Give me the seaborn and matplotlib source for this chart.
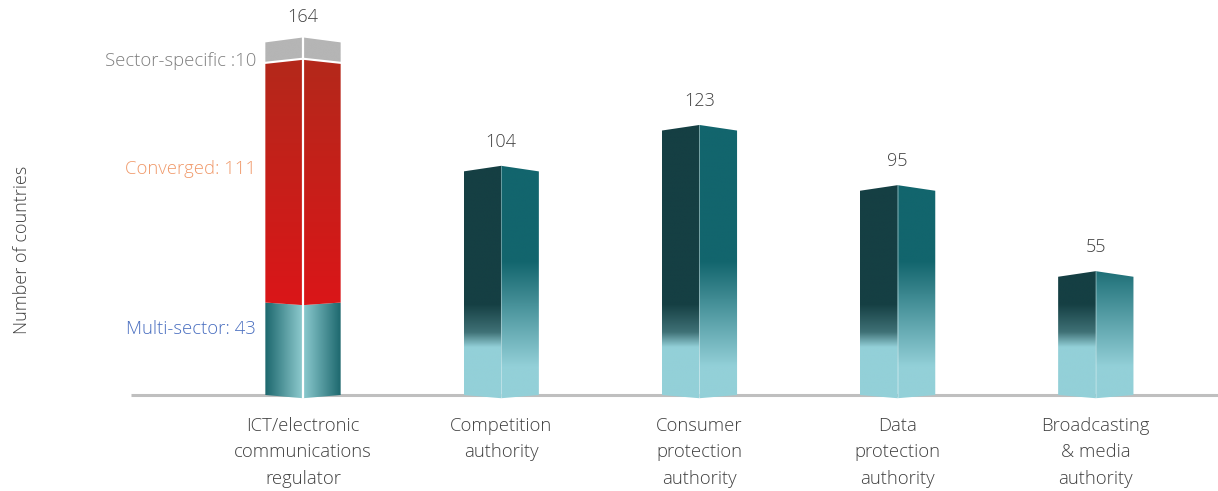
import numpy as np
import matplotlib
matplotlib.use("Agg")
import matplotlib.pyplot as plt
from matplotlib.patches import Polygon
from matplotlib.colors import to_rgb
import seaborn as sns

# ---- data ----
categories = ["ICT/electronic\ncommunications\nregulator",
              "Competition\nauthority",
              "Consumer\nprotection\nauthority",
              "Data\nprotection\nauthority",
              "Broadcasting\n& media\nauthority"]
totals = [164, 104, 123, 95, 55]
ict_segments = ["Multi-sector", "Converged", "Sector-specific"]
ict_values = [43, 111, 10]
ict_labels = ["Multi-sector: 43", "Converged: 111", "Sector-specific :10"]

sns.set_theme(style="white")
plt.rcParams["font.family"] = ["Open Sans", "DejaVu Sans"]
plt.rcParams["font.weight"] = "light"

W, H, DPI = 1218, 491, 100
PPU = 2.15          # pixels per count
BASE_PX = 395       # baseline row (pixels from top)
BOTTOM_PX = 400

fig = plt.figure(figsize=(W / DPI, H / DPI), dpi=DPI)
ax = fig.add_axes([0, (H - BOTTOM_PX) / H, 1, BOTTOM_PX / H])

sns.barplot(x=categories, y=totals, width=0.38, color="white", ax=ax, zorder=0)

step = 198.2
x_first = 303.0
ax.set_xlim(-x_first / step, (W - x_first) / step)
ax.set_ylim(-(BOTTOM_PX - BASE_PX) / PPU, BASE_PX / PPU)
for s in ax.spines.values():
    s.set_visible(False)
ax.set_yticks([])
ax.set_ylabel("")
ax.tick_params(axis="x", length=0, pad=12, labelsize=13.3, labelcolor="#404040")
for t in ax.get_xticklabels():
    t.set_linespacing(1.62)

# baseline
ax.plot([(131 - x_first) / step, (W - x_first) / step], [0, 0],
        color="#bfbfbf", lw=2.2, zorder=1, solid_capstyle="butt")

DARK = np.array(to_rgb("#153f43"))
MID = np.array(to_rgb("#3f7176"))
TEAL = np.array(to_rgb("#12656d"))
LIGHT = np.array(to_rgb("#93d0d8"))


def ramp(v, lo, hi, c_lo, c_hi, smooth=False):
    t = np.clip((v - lo) / (hi - lo), 0, 1)
    if smooth:
        t = t * t * (3 - 2 * t)
    return c_lo[None, :] * (1 - t[:, None]) + c_hi[None, :] * t[:, None]


def face(verts, arr, extent):
    poly = Polygon(verts, closed=True, transform=ax.transData,
                   facecolor="none", edgecolor="none")
    ax.add_patch(poly)
    im = ax.imshow(arr, extent=extent, origin="lower", aspect="auto",
                   interpolation="bilinear", zorder=2)
    im.set_clip_path(poly)


def prism(x0, x1, y0, y1, b, t, left_arr_fn, right_arr_fn):
    xc = (x0 + x1) / 2
    ylo = min(y0, y0 + b) - 0.5
    yhi = max(y1, y1 + t) + 0.5
    left = [(x0, y0), (xc, y0 + b), (xc, y1 + t), (x0, y1)]
    right = [(xc, y0 + b), (x1, y0), (x1, y1), (xc, y1 + t)]
    face(left, left_arr_fn(ylo, yhi), [x0, xc + 0.002, ylo, yhi])
    face(right, right_arr_fn(ylo, yhi), [xc - 0.002, x1, ylo, yhi])


def vgrad(fn):
    def make(ylo, yhi):
        ys = np.linspace(ylo, yhi, 400)
        return fn(ys)[:, None, :]
    return make


def hgrad(c_a, c_b):
    def make(ylo, yhi):
        xs = np.linspace(0, 1, 200)
        row = ramp(xs, 0, 1, c_a, c_b)
        return np.repeat(row[None, :, :], 4, axis=0)
    return make


def left_shade(ys):
    # light base, soft mid-tone, then dark upper body
    out = ramp(ys, 22, 29, LIGHT, MID)
    upper = ys > 29
    out[upper] = ramp(ys[upper], 29, 42, MID, DARK)
    return out


teal_left = vgrad(left_shade)
teal_right = vgrad(lambda ys: ramp(ys, 13, 62, LIGHT, TEAL))

bars = ax.patches[:len(totals)]
PEAK = 2.6
DIP = -1.5
for i, (p, total) in enumerate(zip(bars, totals)):
    p.set_alpha(0)
    x0 = p.get_x()
    x1 = x0 + p.get_width()
    xc = (x0 + x1) / 2
    if i == 0:
        bottoms = np.concatenate([[0], np.cumsum(ict_values)[:-1]])
        # multi-sector block
        m0, m1 = bottoms[0], bottoms[0] + ict_values[0]
        prism(x0, x1, m0, m1, DIP, -1.2,
              hgrad(np.array(to_rgb("#1c676d")), np.array(to_rgb("#92ced2"))),
              hgrad(np.array(to_rgb("#8ccbd0")), np.array(to_rgb("#1a656b"))))
        # converged block
        c0, c1 = bottoms[1], bottoms[1] + ict_values[1]
        red = vgrad(lambda ys, a=c0, b_=c1: ramp(ys, a, b_, np.array(to_rgb("#da1618")),
                                                   np.array(to_rgb("#b4281b"))))
        prism(x0, x1, c0, c1, -1.2, 1.9, red, red)
        # sector-specific block
        g0, g1 = bottoms[2] + 1.0, bottoms[2] + ict_values[2]
        grey = vgrad(lambda ys: np.tile(np.array(to_rgb("#b5b5b5")), (len(ys), 1)))
        prism(x0, x1, g0, g1, 1.9, 2.3, grey, grey)
        ax.plot([xc, xc], [DIP, total + 2.5], color="white", lw=1.6, zorder=3)
        ytext = 18.5
    else:
        prism(x0, x1, 0, total, DIP, PEAK, teal_left, teal_right)
        ax.plot([xc, xc], [DIP, total + PEAK], color="white", lw=0.5,
                alpha=0.35, zorder=3)
        ytext = 21.5
    ax.annotate(str(total), (xc, total), xytext=(0, ytext), textcoords="offset points",
                ha="center", va="center", fontsize=13, color="#404040")

# ICT segment labels
lab_x = (256 - x_first) / step
seg_colors = ["#4a6fc0", "#f0996a", "#7f7f7f"]
seg_y_px = [329, 169, 61]
for lab, col, ypx in zip(ict_labels, seg_colors, seg_y_px):
    ax.text(lab_x, (BASE_PX - ypx) / PPU, lab, ha="right", va="center",
            fontsize=13.3, color=col)

fig.text(22 / W, 1 - 250 / H, "Number of countries", rotation=90,
         ha="center", va="center", fontsize=13, color="#404040")

fig.savefig("out.png", dpi=DPI, facecolor="white")
